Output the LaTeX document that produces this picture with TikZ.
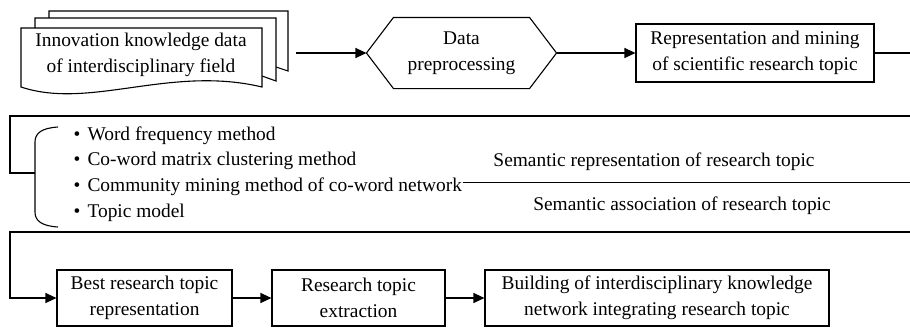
\documentclass[tikz,border=0pt]{standalone}
\usepackage{fontspec}
\setmainfont{Liberation Serif}
\usetikzlibrary{arrows.meta}
\begin{document}
\begin{tikzpicture}[x=1pt, y=-1pt, line width=1.1pt,
  every node/.style={font=\fontsize{19.4}{25.5}\selectfont, inner sep=0pt},
  box/.style={draw, align=center, minimum height=56pt},
  arr/.style={-{Triangle[length=11pt,width=10pt]}},
  item/.style={anchor=base west},
  bul/.style={}]
\useasboundingbox (0,0) rectangle (910,327);

% stacked document (two sheets behind the front one)
\draw[fill=white] (49,18) -- (49,11) -- (288,11) -- (288,71) -- (276,67);
\draw[fill=white] (35,28) -- (35,18) -- (276,18) -- (276,81) -- (262,76);
\draw[fill=white] (21,87) -- (21,28) -- (262,28) -- (262,87)
  .. controls (170,65) and (90,110) .. (21,87) -- cycle;
\node[align=center] (doc) at (141,55) {Innovation knowledge data\\of interdisciplinary field};
\coordinate (docout) at (296,53);

% preprocessing hexagon
\node[minimum width=189pt, minimum height=70pt, align=center] (prep) at (461.5,53) {Data\\preprocessing};
\draw (prep.west) -- ([xshift=27pt]prep.north west) -- ([xshift=-27pt]prep.north east)
  -- (prep.east) -- ([xshift=-27pt]prep.south east) -- ([xshift=27pt]prep.south west) -- cycle;

\node[box, minimum width=238pt, minimum height=58pt] (rep) at (755,53) {Representation and mining\\of scientific research topic};

\draw[arr] (docout) -- (prep.west);
\draw[arr] (prep.east) -- (rep.west);
\coordinate (r1) at (915,53);
\draw (rep.east) -- (r1);

% methods band
\coordinate (r2) at (915,116);
\coordinate (c2) at (10,116);
\coordinate (c3) at (10,173);
\coordinate (bmid) at (35,173);
\draw (r2) -- (c2) -- (c3) -- (bmid);
\draw (58,127) .. controls (42,128) and (35,133) .. (35,142) -- (35,212)
  .. controls (35,221) and (42,226) .. (58,227);

\node[item] (m1) at (73,140)   {\makebox[14pt][l]{\textbullet}Word frequency method};
\node[item] (m2) at (73,165.7) {\makebox[14pt][l]{\textbullet}Co-word matrix clustering method};
\node[item] (m3) at (73,191.4) {\makebox[14pt][l]{\textbullet}Community mining method of co-word network};
\node[item] (m4) at (73,217)   {\makebox[14pt][l]{\textbullet}Topic model};

\node (semrep) at (654,162) {Semantic representation of research topic};
\node (semass) at (682,206) {Semantic association of research topic};
\coordinate (semL) at ([yshift=4pt]m3.east);
\coordinate (r3) at (915,183);
\draw (semL) -- (semL -| r3);

% bottom row
\coordinate (r4) at (915,232);
\coordinate (c4) at (10,232);
\node[box, minimum width=175pt] (b1) at (144.5,298) {Best research topic\\representation};
\node[box, minimum width=173pt] (b2) at (358.5,298) {Research topic\\extraction};
\node[box, minimum width=344pt] (b3) at (657,298) {Building of interdisciplinary knowledge\\network integrating research topic};
\draw[arr] (r4) -- (c4) |- (b1.west);
\draw[arr] (b1.east) -- (b2.west);
\draw[arr] (b2.east) -- (b3.west);
\end{tikzpicture}
\end{document}
